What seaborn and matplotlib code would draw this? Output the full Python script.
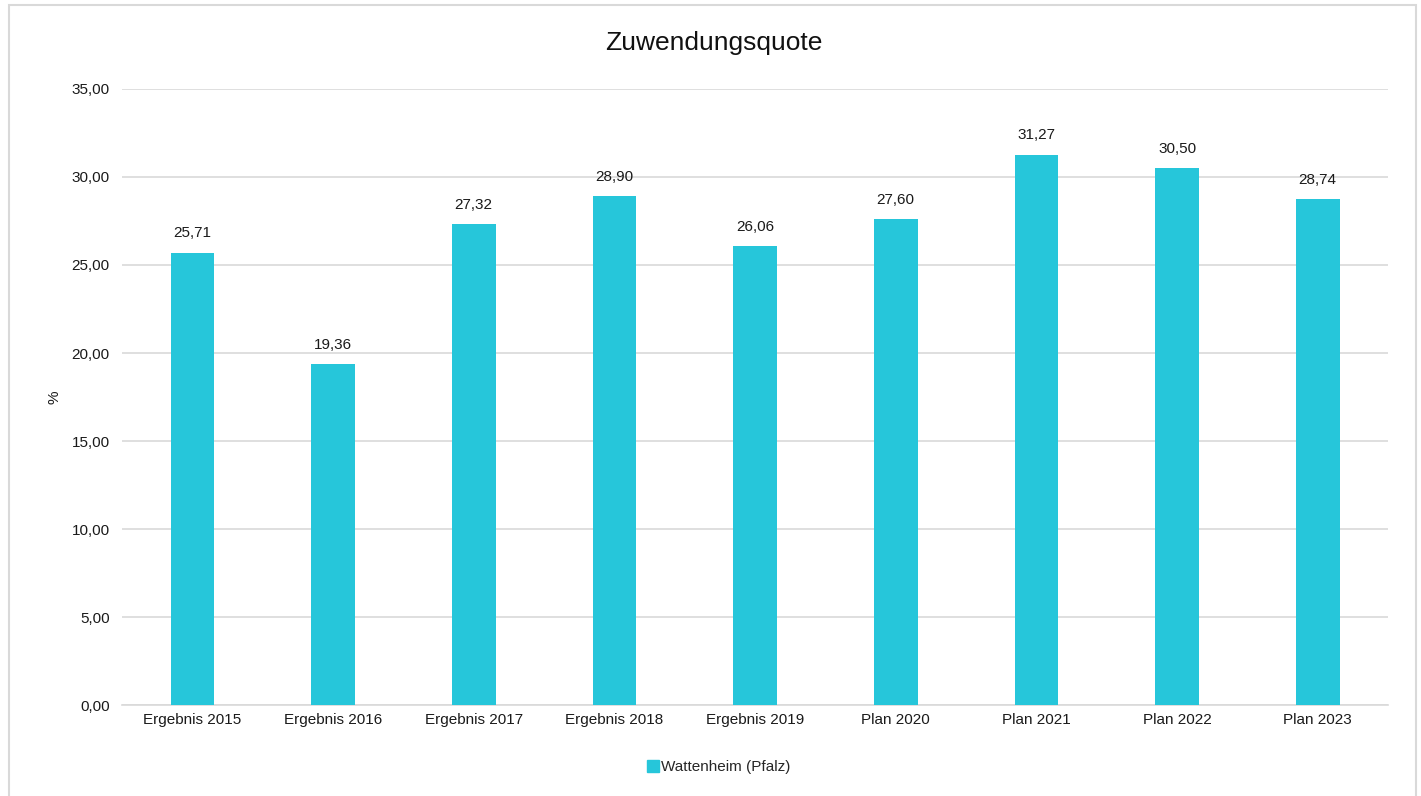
import matplotlib
matplotlib.use("Agg")
import matplotlib.pyplot as plt
import seaborn as sns
import pandas as pd
from matplotlib.patches import Rectangle
from matplotlib.lines import Line2D

categories = ["Ergebnis 2015", "Ergebnis 2016", "Ergebnis 2017", "Ergebnis 2018",
              "Ergebnis 2019", "Plan 2020", "Plan 2021", "Plan 2022", "Plan 2023"]
values = [25.71, 19.36, 27.32, 28.90, 26.06, 27.60, 31.27, 30.50, 28.74]
series_name = "Wattenheim (Pfalz)"
y_ticks = [0, 5, 10, 15, 20, 25, 30, 35]

bar_color = "#26C6DA"
grid_color = "#D9D9D9"
text_color = "#1A1A1A"
fs = 11

sns.set_theme(style="white")
plt.rcParams["font.family"] = ["Liberation Sans", "DejaVu Sans"]

df = pd.DataFrame({"category": categories, "value": values})

fig = plt.figure(figsize=(14.21, 7.96), dpi=100)
ax = fig.add_axes([0.0859, 0.1143, 0.8909, 0.7739])

sns.barplot(data=df, x="category", y="value", color=bar_color, width=0.31,
            saturation=1, linewidth=0, ax=ax, zorder=3)

ax.set_ylim(0, 35)
ax.set_yticks(y_ticks)
ax.set_yticklabels([f"{v:.2f}".replace(".", ",") for v in y_ticks], fontsize=fs, color=text_color)
ax.tick_params(axis="x", labelsize=fs, colors=text_color, length=0, pad=6)
ax.tick_params(axis="y", length=0, pad=9)
ax.yaxis.grid(True, color=grid_color, linewidth=1.2, zorder=0)
for s in ["top", "right", "left"]:
    ax.spines[s].set_visible(False)
ax.spines["bottom"].set_color(grid_color)
ax.spines["bottom"].set_linewidth(1.2)
ax.set_xlabel("")
ax.set_ylabel("%", fontsize=fs, color=text_color, labelpad=7)

for p, v in zip(ax.patches, values):
    ax.annotate(f"{v:.2f}".replace(".", ","), (p.get_x() + p.get_width() / 2, v),
                xytext=(0, 9), textcoords="offset points", ha="center", va="bottom",
                fontsize=fs, color=text_color)

fig.text(0.502, 0.946, "Zuwendungsquote", ha="center", va="center", fontsize=19, color="#111111")

handle = Line2D([], [], marker="s", linestyle="none", markersize=8,
                markerfacecolor=bar_color, markeredgecolor=bar_color)
fig.legend([handle], [series_name], loc="center", bbox_to_anchor=(0.505, 0.036),
           frameon=False, fontsize=fs, handletextpad=0.0, handlelength=1.0)

fig.patches.append(Rectangle((0.0063, -0.05), 0.9902, 1.044, transform=fig.transFigure,
                             fill=False, edgecolor="#D9D9D9", linewidth=1.5))

fig.savefig("out.png", dpi=100)
